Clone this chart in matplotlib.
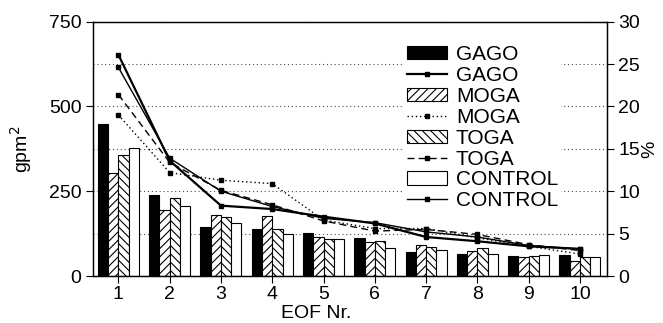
import numpy as np
import matplotlib.pyplot as plt
from matplotlib.patches import Patch
from matplotlib.lines import Line2D

plt.rcParams['font.family'] = ['Liberation Sans', 'DejaVu Sans']
plt.rcParams['hatch.linewidth'] = 0.8

eof = np.arange(1, 11)

# explained variance (gpm^2), bars
gago_var = [448, 239, 145, 138, 126, 111, 72, 65, 60, 61]
moga_var = [303, 195, 180, 176, 114, 99, 91, 75, 55, 44]
toga_var = [357, 231, 174, 140, 110, 104, 86, 84, 59, 57]
control_var = [378, 206, 157, 123, 110, 83, 77, 65, 61, 55]

# explained variance (%), lines
gago_pct = [26.1, 13.6, 8.3, 7.9, 7.0, 6.2, 4.6, 4.1, 3.5, 3.2]
moga_pct = [19.0, 12.2, 11.3, 10.9, 6.6, 5.6, 5.6, 4.5, 3.5, 2.6]
toga_pct = [21.4, 13.4, 10.1, 8.4, 6.5, 5.3, 5.5, 4.9, 3.7, 3.0]
control_pct = [24.6, 13.9, 10.0, 8.2, 6.8, 6.3, 5.2, 4.6, 3.6, 3.2]

names = ["GAGO", "MOGA", "TOGA", "CONTROL"]

fig = plt.figure(figsize=(6.63, 3.23), dpi=100)
ax = fig.add_axes([0.1407, 0.1455, 0.7743, 0.7873])
ax2 = ax.twinx()

w = 0.2
bar_styles = [
    dict(facecolor="black", hatch=None),
    dict(facecolor="white", hatch="////"),
    dict(facecolor="white", hatch="\\\\\\\\"),
    dict(facecolor="white", hatch=None),
]
line_styles = [
    dict(ls="-", lw=1.6),
    dict(ls=(0, (1, 2)), lw=1.0),
    dict(ls=(0, (5, 3)), lw=1.0),
    dict(ls="-", lw=1.0),
]

handles = []
for i, (vals, pcts) in enumerate(zip([gago_var, moga_var, toga_var, control_var],
                                     [gago_pct, moga_pct, toga_pct, control_pct])):
    st = bar_styles[i]
    ax.bar(eof + (i - 1.5) * w, vals, w, color=st["facecolor"], edgecolor="black",
           hatch=st["hatch"], linewidth=0.8, zorder=2)
    ls = line_styles[i]
    ax2.plot(eof, pcts, color="black", linestyle=ls["ls"], lw=ls["lw"],
             marker="s", markersize=2.2, zorder=3)
    handles.append(Patch(facecolor=st["facecolor"], edgecolor="black",
                         hatch=st["hatch"], linewidth=0.8))
    handles.append(Line2D([], [], color="black", linestyle=ls["ls"], lw=ls["lw"],
                          marker="s", markersize=2.2))

labels = [n for n in names for _ in range(2)]

ax.set_xlim(0.51, 10.52)
ax.set_ylim(0, 750)
ax2.set_ylim(0, 30)
ax.set_xticks(eof)
ax.set_yticks([0, 250, 500, 750])
ax.set_yticks([125, 375, 625], minor=True)
ax.tick_params(axis="y", which="minor", length=0)
ax2.set_yticks([0, 5, 10, 15, 20, 25, 30])

ax.set_axisbelow(True)
ax.grid(axis="y", which="both", linestyle=(0, (1, 2.5)), color="0.3", lw=0.8)

for a in (ax, ax2):
    a.tick_params(labelsize=14, length=5, width=0.8, direction="out")
    for s in a.spines.values():
        s.set_linewidth(0.9)
ax.tick_params(axis="x", pad=2)

ax.set_xlabel("EOF Nr.", fontsize=14, labelpad=0)
ax.xaxis.set_label_coords(0.434, -0.114)
ax.set_ylabel("gpm$^2$", fontsize=14)
ax.yaxis.set_label_coords(-0.115, 0.5)
ax2.set_ylabel("%", fontsize=14, rotation=90, labelpad=1)

leg = ax2.legend(handles, labels, loc="upper left", bbox_to_anchor=(0.605, 0.92),
                 fontsize=15, frameon=True, facecolor="white", edgecolor="none",
                 framealpha=1, borderpad=0.15, labelspacing=0.09,
                 handlelength=1.9, handleheight=0.6, handletextpad=0.45,
                 borderaxespad=0, fancybox=False)

fig.savefig("out.png", dpi=100)
